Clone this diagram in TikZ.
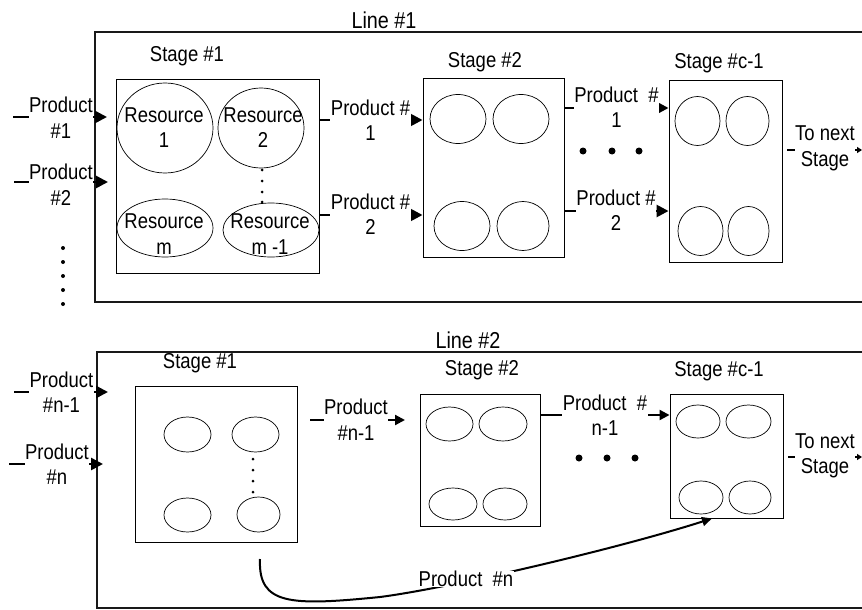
\documentclass[tikz,border=0pt]{standalone}
\usepackage{fontspec}
\setmainfont{Liberation Sans}[FakeStretch=0.86]
\usetikzlibrary{arrows.meta,shapes.geometric,calc}

\begin{document}
\begin{tikzpicture}[x=1pt,y=-1pt,
  every node/.style={font=\fontsize{21.5}{25.5}\selectfont},
  linebox/.style={draw=black!90, line width=1.2pt, inner sep=0pt},
  linetitle/.style={inner sep=0pt, font=\fontsize{23}{27}\selectfont},
  stagebox/.style={draw, line width=0.9pt, inner sep=0pt},
  res/.style={draw, ellipse, line width=0.7pt, inner sep=0pt},
  txt/.style={align=center, inner sep=0pt},
  lbl/.style={align=center, fill=white, inner sep=0.5pt},
  feed/.style={line width=2.6pt, -{Triangle[length=12pt,width=12pt]}},
  feedb/.style={line width=2.2pt, -{Triangle[length=10pt,width=10pt]}},
  tonext/.style={line width=2.2pt, -{Triangle[length=5pt,width=6pt]}},
  flow/.style={line width=2pt, -{Triangle[length=10pt,width=9pt]}},
]
\path[use as bounding box] (0,0) rectangle (862,610);
\clip (0,0) rectangle (862,610);

% ---------------- Line 1 ----------------
\node[linebox, minimum width=775pt, minimum height=270pt] (L1) at (482.5,167) {};
\node[linetitle] (L1t) at (384,20) {Line \#1};

% Stage 1 with its resources
\node[stagebox, minimum width=203pt, minimum height=194pt] (s11) at (217.5,176) {};
\node[txt] (s11t) at (187,56) {Stage \#1};
\node[res, minimum width=96pt, minimum height=90pt] (r1) at (165,128) {};
\node[res, minimum width=86pt, minimum height=80pt] (r2) at (261,128) {};
\node[res, minimum width=96pt, minimum height=58pt] (rm) at (165,228) {};
\node[res, minimum width=96pt, minimum height=54pt] (rm1) at (271,230) {};
\node[txt] (r1t) at (164,127.5) {Resource\\1};
\node[txt] (r2t) at (263,127.5) {Resource\\2};
\node[txt] (rmt) at (164,234) {Resource\\m};
\node[txt] (rm1t) at (270,234) {Resource\\m -1};
\foreach \y in {170,181,192,202} \fill (262,\y) circle[radius=1.5pt];

% Stage 2
\node[stagebox, minimum width=141pt, minimum height=179pt] (s12) at (493.5,167.5) {};
\node[txt] (s12t) at (485,62) {Stage \#2};
\node[res, minimum width=56pt, minimum height=49pt] (e121) at (458,119) {};
\node[res, minimum width=56pt, minimum height=49pt] (e122) at (521,119) {};
\node[res, minimum width=56pt, minimum height=49pt] (e123) at (462,226) {};
\node[res, minimum width=52pt, minimum height=49pt] (e124) at (523,226) {};

% Stage c-1
\node[stagebox, minimum width=113pt, minimum height=182pt] (s1c) at (725.5,171) {};
\node[txt] (s1ct) at (719,63) {Stage \#c-1};
\node[res, minimum width=45pt, minimum height=49pt] (e1c1) at (697.5,121) {};
\node[res, minimum width=43pt, minimum height=49pt] (e1c2) at (747.5,121) {};
\node[res, minimum width=45pt, minimum height=49pt] (e1c3) at (700.5,231) {};
\node[res, minimum width=41pt, minimum height=49pt] (e1c4) at (748.5,231) {};

% incoming products
\coordinate (a1s) at (13,117);  \coordinate (a1e) at (107,117);
\coordinate (a2s) at (14,182);  \coordinate (a2e) at (108,182);
\draw[feed] (a1s) -- (a1e);
\draw[feed] (a2s) -- (a2e);
\node[lbl] (a1t) at (61,117.5) {Product\\\#1};
\node[lbl] (a2t) at (61,184.5) {Product\\\#2};
\foreach \y in {248,262,276,290,304} \fill (63,\y) circle[radius=2pt];

% stage 1 -> stage 2
\draw[feed] (s11.east |- 0,120) -- (s12.west |- 0,120);
\draw[feed] (s11.east |- 0,215) -- (s12.west |- 0,215);
\node[lbl] (a3t) at (370.5,120) {Product \#\\1};
\node[lbl] (a4t) at (370.5,214) {Product \#\\2};

% stage 2 -> stage c-1
\draw[feed] (s12.east |- 0,108) -- (s1c.west |- 0,108);
\draw[feed] (s12.east |- 0,211) -- (s1c.west |- 0,211);
\node[lbl] (a5t) at (616.5,107) {Product\ \ \#\\1};
\node[lbl] (a6t) at (616,210) {Product \#\\2};
\foreach \x in {583,612,639} \fill (\x,151) circle[radius=3.5pt];

% to the next stage
\coordinate (a7s) at (787,150); \coordinate (a7e) at (862,150);
\draw[tonext] (a7s) -- (a7e);
\node[lbl] (a7t) at (825,148.5) {To next\\Stage};

% ---------------- Line 2 ----------------
\node[linebox, minimum width=773pt, minimum height=256pt] (L2) at (483.5,480) {};
\node[linetitle] (L2t) at (468,340) {Line \#2};

% Stage 1
\node[stagebox, minimum width=162pt, minimum height=156pt] (s21) at (216,464) {};
\node[txt] (s21t) at (200,363) {Stage \#1};
\node[res, minimum width=47pt, minimum height=35pt] (e211) at (187.5,434.5) {};
\node[res, minimum width=47pt, minimum height=35pt] (e212) at (255.5,434.5) {};
\node[res, minimum width=47pt, minimum height=34pt] (e213) at (187.5,515) {};
\node[res, minimum width=43pt, minimum height=35pt] (e214) at (258.5,514.5) {};
\foreach \y in {459,470,481,492} \fill (253,\y) circle[radius=1.5pt];

% Stage 2
\node[stagebox, minimum width=120pt, minimum height=132pt] (s22) at (480,460) {};
\node[txt] (s22t) at (482,370) {Stage \#2};
\node[res, minimum width=47pt, minimum height=34pt] (e221) at (449.5,424) {};
\node[res, minimum width=48pt, minimum height=34pt] (e222) at (503,424) {};
\node[res, minimum width=48pt, minimum height=32pt] (e223) at (453,504) {};
\node[res, minimum width=44pt, minimum height=32pt] (e224) at (505,504) {};

% Stage c-1
\node[stagebox, minimum width=113pt, minimum height=124pt] (s2c) at (726.5,456) {};
\node[txt] (s2ct) at (719,371) {Stage \#c-1};
\node[res, minimum width=44pt, minimum height=33pt] (e2c1) at (698,421.5) {};
\node[res, minimum width=45pt, minimum height=33pt] (e2c2) at (748.5,421.5) {};
\node[res, minimum width=44pt, minimum height=33pt] (e2c3) at (701,497.5) {};
\node[res, minimum width=42pt, minimum height=33pt] (e2c4) at (750,497.5) {};

% incoming products
\coordinate (b1s) at (14,392); \coordinate (b1e) at (108,392);
\coordinate (b2s) at (9,464);  \coordinate (b2e) at (103,464);
\draw[feed] (b1s) -- (b1e);
\draw[feed] (b2s) -- (b2e);
\node[lbl] (b1t) at (61.5,392) {Product\\\#n-1};
\node[lbl] (b2t) at (57,464) {Product\\\#n};

% stage 1 -> stage 2
\coordinate (b3s) at (310,420); \coordinate (b3e) at (405,420);
\draw[feedb] (b3s) -- (b3e);
\node[lbl] (b3t) at (356,419.5) {Product\\\#n-1};

% stage 2 -> stage c-1
\draw[feedb] (s22.east |- 0,415) -- (s2c.west |- 0,415);
\node[lbl] (b4t) at (605,415) {Product\ \ \#\\n-1};
\foreach \x in {579,607,635} \fill (\x,458) circle[radius=3.5pt];

% to the next stage
\coordinate (b5s) at (788,457); \coordinate (b5e) at (862,457);
\draw[tonext] (b5s) -- (b5e);
\node[lbl] (b5t) at (825,456) {To next\\Stage};

% product n skips stage 2
\coordinate (pns) at (260,559);
\draw[flow] (pns) .. controls (258,605) and (290,606) .. (380,597)
  .. controls (450,588) and (620,548) .. ([xshift=-14.5pt]s2c.south);
\node[lbl] (pnt) at (466,579) {Product\ \ \#n};
\end{tikzpicture}
\end{document}
